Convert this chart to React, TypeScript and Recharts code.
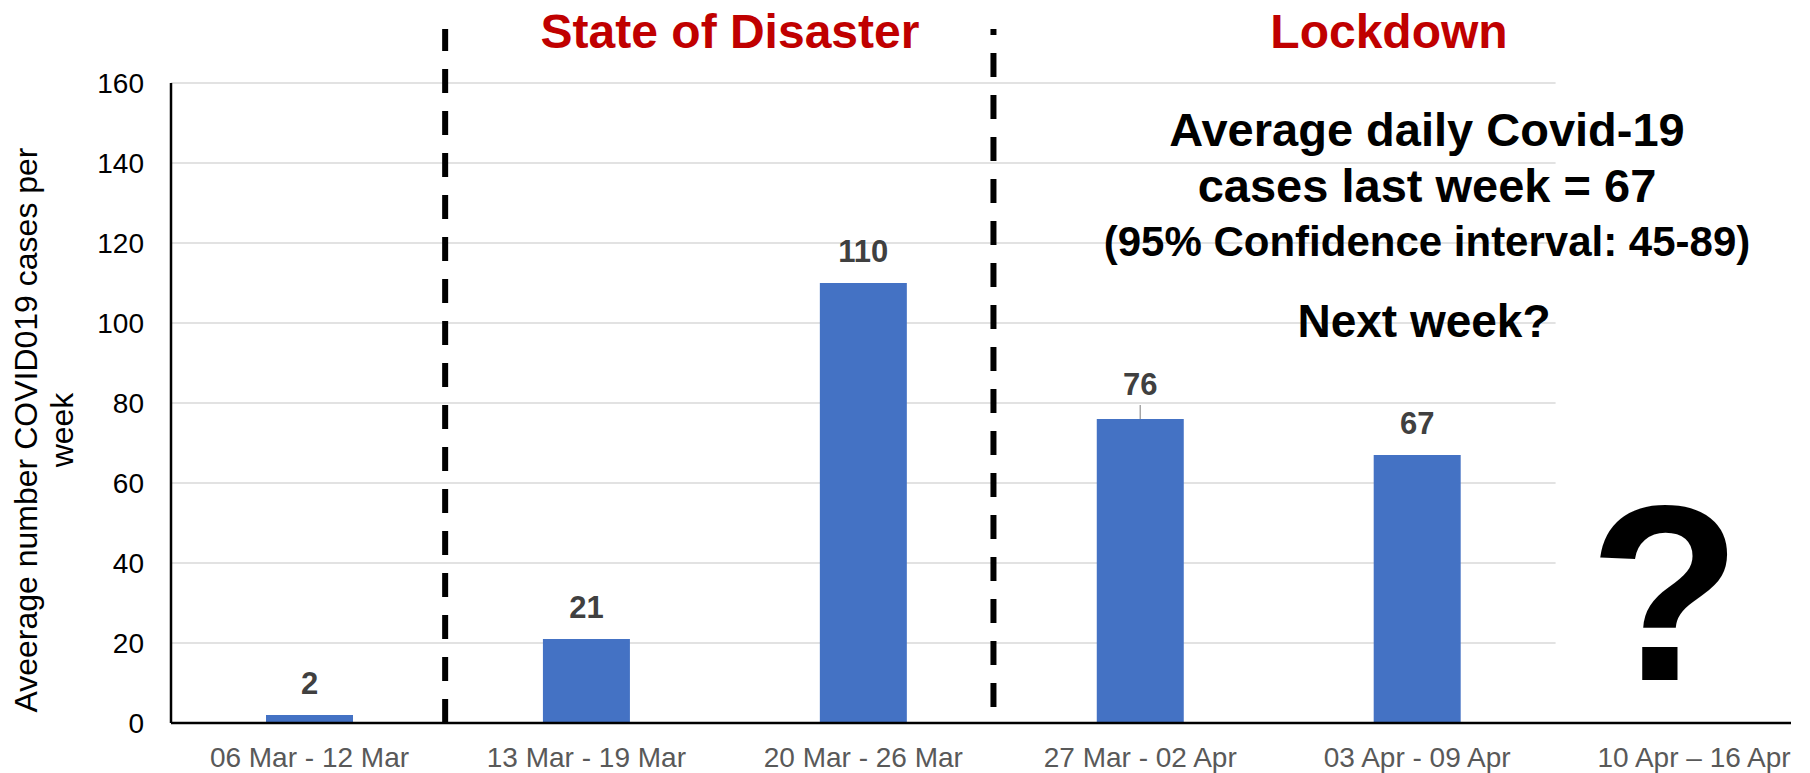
import { BarChart, Bar, XAxis, YAxis, CartesianGrid, ReferenceLine, ErrorBar, LabelList } from 'recharts';

const FONT = '"Liberation Sans", Arial, sans-serif';

// weekly periods (x categories), the last one has no data yet
const weeks = [
  '06 Mar - 12 Mar',
  '13 Mar - 19 Mar',
  '20 Mar - 26 Mar',
  '27 Mar - 02 Apr',
  '03 Apr - 09 Apr',
  '10 Apr – 16 Apr',
];
const cases = [2, 21, 110, 76, 67];
const caseErrors: (number[] | null)[] = [null, null, null, [0, 3.5], null];
const yTicks = [0, 20, 40, 60, 80, 100, 120, 140, 160];

// dashed separators between phases, in week units, and where they stop
const phaseBreaks = [0.49, 2.47];
const phaseBreakBottoms = [0, 4];
const phaseBreakTop = 173.5;

const xDomain = [-0.5, 5.35];
const gridEnd = 4.5; // gridlines stop after the last week with data

const data = cases.map((c, i) => ({ idx: i, week: weeks[i], cases: c, err: caseErrors[i] }));

const BarValue = (props: any) => {
  const { x, y, width, value, index } = props;
  const lift = caseErrors[index] ? 24 : 21;
  return (
    <text x={x + width / 2} y={y - lift} textAnchor='middle' fontSize={31} fontWeight='bold' fill='#404040' fontFamily={FONT}>
      {value}
    </text>
  );
};

const GridLine = (p: any) => {
  const frac = (gridEnd - xDomain[0]) / (xDomain[1] - xDomain[0]);
  return (
    <line
      key={p.key ?? p.index}
      x1={p.x1}
      y1={p.y1}
      x2={p.x1 + (p.x2 - p.x1) * frac}
      y2={p.y2}
      stroke='#d9d9d9'
      strokeWidth={1.5}
    />
  );
};

export default function App() {
  return (
    <div style={{ position: 'absolute', left: 0, top: 0, width: 1810, height: 773, background: '#fff' }}>
      <BarChart width={1810} height={773} data={data} margin={{ top: 83, right: 19, bottom: 10, left: 71 }}>
        <CartesianGrid vertical={false} horizontal={GridLine} />
        <XAxis
          dataKey='idx'
          type='number'
          domain={xDomain}
          allowDataOverflow
          ticks={weeks.map((_, i) => i)}
          interval={0}
          tickFormatter={(i: number) => weeks[i] ?? ''}
          height={40}
          tickLine={false}
          tickSize={16}
          tickMargin={8}
          axisLine={{ stroke: '#000', strokeWidth: 2.5 }}
          tick={{ fill: '#595959', fontSize: 28, fontFamily: FONT }}
        />
        <YAxis
          domain={[0, 160]}
          allowDataOverflow
          ticks={yTicks}
          interval={0}
          width={100}
          tickLine={false}
          tickSize={19}
          tickMargin={8}
          axisLine={{ stroke: '#000', strokeWidth: 2.5 }}
          tick={{ fill: '#000', fontSize: 28, fontFamily: FONT }}
        />
        <Bar dataKey='cases' fill='#4472C4' barSize={87} isAnimationActive={false}>
          <ErrorBar dataKey='err' direction='y' width={0} stroke='#a6a6a6' strokeWidth={1.5} />
          <LabelList dataKey='cases' content={BarValue} />
        </Bar>
        {phaseBreaks.map((b, i) => (
          <ReferenceLine
            key={b}
            segment={[{ x: b, y: phaseBreakBottoms[i] }, { x: b, y: phaseBreakTop }]}
            ifOverflow='visible'
            stroke='#000'
            strokeWidth={6}
            strokeDasharray='24 18'
          />
        ))}
        <g fontFamily={FONT}>
          <text x={37} y={430} transform='rotate(-90 37 430)' textAnchor='middle' fontSize={32} fill='#000'>
            Aveerage number COVID019 cases per
          </text>
          <text x={73} y={430} transform='rotate(-90 73 430)' textAnchor='middle' fontSize={32} fill='#000'>
            week
          </text>
          <text x={730} y={48} textAnchor='middle' fontSize={48} fontWeight='bold' fill='#C00000'>
            State of Disaster
          </text>
          <text x={1389} y={48} textAnchor='middle' fontSize={48} fontWeight='bold' fill='#C00000'>
            Lockdown
          </text>
          <text x={1427} y={146} textAnchor='middle' fontSize={47} fontWeight='bold' fill='#000'>
            Average daily Covid-19
          </text>
          <text x={1427} y={202} textAnchor='middle' fontSize={47} fontWeight='bold' fill='#000'>
            cases last week = 67
          </text>
          <text x={1427} y={256} textAnchor='middle' fontSize={42} fontWeight='bold' fill='#000'>
            (95% Confidence interval: 45-89)
          </text>
          <text x={1424} y={337} textAnchor='middle' fontSize={46} fontWeight='bold' fill='#000'>
            Next week?
          </text>
          <text x={1665} y={680} textAnchor='middle' fontSize={250} fontWeight='bold' fill='#000'>
            ?
          </text>
        </g>
      </BarChart>
    </div>
  );
}
